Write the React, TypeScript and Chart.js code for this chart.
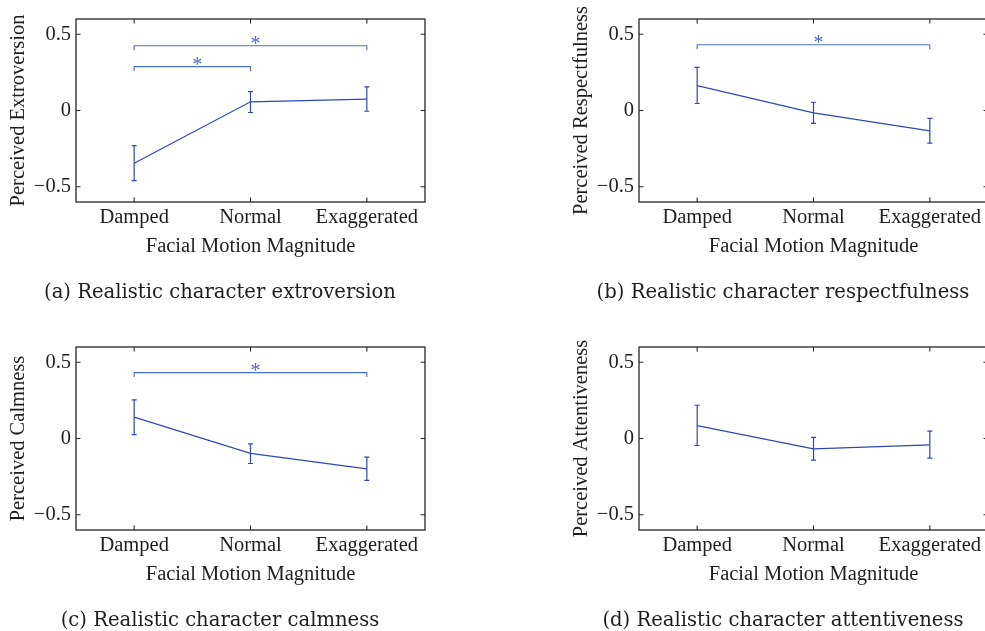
import React, { useEffect, useRef } from 'react';
import { Chart, registerables } from 'chart.js';
Chart.register(...registerables);

// ---------- data ----------
const categories = ['Damped', 'Normal', 'Exaggerated'];
const yTickValues = [-0.5, 0, 0.5];
const yTickLabels = ['\u22120.5', '0', '0.5'];
const yMin = -0.6;
const yMax = 0.6;

const extroversionMean = [-0.346, 0.057, 0.074];
const extroversionLower = [-0.46, -0.013, -0.005];
const extroversionUpper = [-0.23, 0.124, 0.155];
const extroversionSig = [
  { from: 0, to: 2, y: 0.425 },
  { from: 0, to: 1, y: 0.288 },
];

const respectMean = [0.163, -0.015, -0.133];
const respectLower = [0.046, -0.085, -0.214];
const respectUpper = [0.283, 0.054, -0.052];
const respectSig = [{ from: 0, to: 2, y: 0.431 }];

const calmMean = [0.14, -0.098, -0.199];
const calmLower = [0.026, -0.164, -0.275];
const calmUpper = [0.253, -0.035, -0.122];
const calmSig = [{ from: 0, to: 2, y: 0.432 }];

const attentMean = [0.085, -0.068, -0.042];
const attentLower = [-0.046, -0.142, -0.129];
const attentUpper = [0.218, 0.007, 0.048];
const attentSig: { from: number; to: number; y: number }[] = [];

const xTitle = 'Facial Motion Magnitude';

// ---------- styles ----------
const LINE_COLOR = '#2f48b2';
const BRACKET_COLOR = '#4f6cc4';
const AXIS_COLOR = '#262626';
const TEXT_COLOR = '#1e1e1e';
const SERIF = '"Liberation Serif", "Times New Roman", serif';
const CAPTION_FONT = '"DejaVu Serif", serif';

type Panel = {
  yTitle: string;
  caption: string;
  mean: number[];
  lower: number[];
  upper: number[];
  sig: { from: number; to: number; y: number }[];
  left: number;
  top: number;
};

const panels: Panel[] = [
  { yTitle: 'Perceived Extroversion', caption: '(a) Realistic character extroversion', mean: extroversionMean, lower: extroversionLower, upper: extroversionUpper, sig: extroversionSig, left: 0, top: 0 },
  { yTitle: 'Perceived Respectfulness', caption: '(b) Realistic character respectfulness', mean: respectMean, lower: respectLower, upper: respectUpper, sig: respectSig, left: 563, top: 0 },
  { yTitle: 'Perceived Calmness', caption: '(c) Realistic character calmness', mean: calmMean, lower: calmLower, upper: calmUpper, sig: calmSig, left: 0, top: 328 },
  { yTitle: 'Perceived Attentiveness', caption: '(d) Realistic character attentiveness', mean: attentMean, lower: attentLower, upper: attentUpper, sig: attentSig, left: 563, top: 328 },
];

const CW = 460;
const CH = 315;

function makeDecor(p: Panel) {
  return {
    id: 'decor',
    afterDraw(chart: any) {
      const { ctx, chartArea: a, scales } = chart;
      const x = scales.x;
      const y = scales.y;
      ctx.save();
      // error bars
      ctx.strokeStyle = LINE_COLOR;
      ctx.lineWidth = 1.2;
      p.mean.forEach((_m, i) => {
        const px = x.getPixelForValue(i);
        const lo = y.getPixelForValue(p.lower[i]);
        const hi = y.getPixelForValue(p.upper[i]);
        ctx.beginPath();
        ctx.moveTo(px, lo);
        ctx.lineTo(px, hi);
        ctx.moveTo(px - 2.5, lo);
        ctx.lineTo(px + 2.5, lo);
        ctx.moveTo(px - 2.5, hi);
        ctx.lineTo(px + 2.5, hi);
        ctx.stroke();
      });
      // significance brackets
      ctx.strokeStyle = BRACKET_COLOR;
      ctx.fillStyle = BRACKET_COLOR;
      ctx.lineWidth = 1.1;
      p.sig.forEach((s) => {
        const x1 = x.getPixelForValue(s.from);
        const x2 = x.getPixelForValue(s.to);
        const py = y.getPixelForValue(s.y);
        ctx.beginPath();
        ctx.moveTo(x1, py + 4.5);
        ctx.lineTo(x1, py);
        ctx.lineTo(x2, py);
        ctx.lineTo(x2, py + 4.5);
        ctx.stroke();
        ctx.font = '20px ' + SERIF;
        ctx.textAlign = 'left';
        ctx.textBaseline = 'alphabetic';
        ctx.fillText('*', (x1 + x2) / 2, py + 4);
      });
      // box
      ctx.strokeStyle = AXIS_COLOR;
      ctx.lineWidth = 1.3;
      ctx.strokeRect(a.left, a.top, a.right - a.left, a.bottom - a.top);
      // inward ticks
      const tl = 4.5;
      ctx.lineWidth = 1.1;
      ctx.beginPath();
      y.ticks.forEach((t: any) => {
        const py = y.getPixelForValue(t.value);
        ctx.moveTo(a.left, py);
        ctx.lineTo(a.left + tl, py);
        ctx.moveTo(a.right, py);
        ctx.lineTo(a.right - tl, py);
      });
      x.ticks.forEach((_t: any, i: number) => {
        const px = x.getPixelForValue(i);
        ctx.moveTo(px, a.bottom);
        ctx.lineTo(px, a.bottom - tl);
        ctx.moveTo(px, a.top);
        ctx.lineTo(px, a.top + tl);
      });
      ctx.stroke();
      // caption
      ctx.font = '19.6px ' + CAPTION_FONT;
      ctx.fillStyle = TEXT_COLOR;
      ctx.textAlign = 'center';
      ctx.textBaseline = 'alphabetic';
      ctx.fillText(p.caption, a.left + 144, a.bottom + 96);
      ctx.restore();
    },
  };
}

function PanelChart({ p }: { p: Panel }) {
  const ref = useRef<HTMLCanvasElement | null>(null);
  useEffect(() => {
    if (!ref.current) return;
    const chart = new Chart(ref.current, {
      type: 'line',
      data: {
        labels: categories,
        datasets: [
          {
            data: p.mean,
            borderColor: LINE_COLOR,
            borderWidth: 1.2,
            pointRadius: 0,
            tension: 0,
            fill: false,
          },
        ],
      },
      options: {
        animation: false,
        responsive: false,
        maintainAspectRatio: false,
        events: [],
        layout: { padding: { left: 0, top: 19, right: CW - 425, bottom: 53 } },
        plugins: { legend: { display: false }, tooltip: { enabled: false }, title: { display: false } },
        scales: {
          x: {
            type: 'category',
            offset: true,
            grid: { display: false, drawTicks: false },
            border: { display: false },
            ticks: { color: TEXT_COLOR, font: { family: SERIF, size: 20.5 }, padding: 3, maxRotation: 0, autoSkip: false },
            title: { display: true, text: xTitle, color: TEXT_COLOR, font: { family: SERIF, size: 20.5 }, padding: { top: 0, bottom: 2.7 } },
            afterFit: (s: any) => { s.height = 60; },
          },
          y: {
            type: 'linear',
            min: yMin,
            max: yMax,
            grid: { display: false, drawTicks: false },
            border: { display: false },
            afterBuildTicks: (s: any) => { s.ticks = yTickValues.map((v) => ({ value: v })); },
            ticks: {
              color: TEXT_COLOR,
              font: { family: SERIF, size: 20.5 },
              padding: 5,
              callback: (v: any) => {
                const i = yTickValues.indexOf(Number(v));
                return i >= 0 ? yTickLabels[i] : '';
              },
            },
            title: { display: true, text: p.yTitle, color: TEXT_COLOR, font: { family: SERIF, size: 20.5 }, padding: { top: 6.7, bottom: 0 } },
            afterFit: (s: any) => { s.width = 76; },
          },
        },
      },
      plugins: [makeDecor(p)],
    } as any);
    return () => chart.destroy();
  }, [p]);
  return (
    <canvas
      ref={ref}
      width={CW}
      height={CH}
      style={{ position: 'absolute', left: p.left, top: p.top, width: CW, height: CH }}
    />
  );
}

export default function App() {
  return (
    <div style={{ position: 'fixed', left: 0, top: 0, width: 985, height: 631, overflow: 'hidden', background: '#fff' }}>
      {panels.map((p, i) => (
        <PanelChart key={i} p={p} />
      ))}
    </div>
  );
}
